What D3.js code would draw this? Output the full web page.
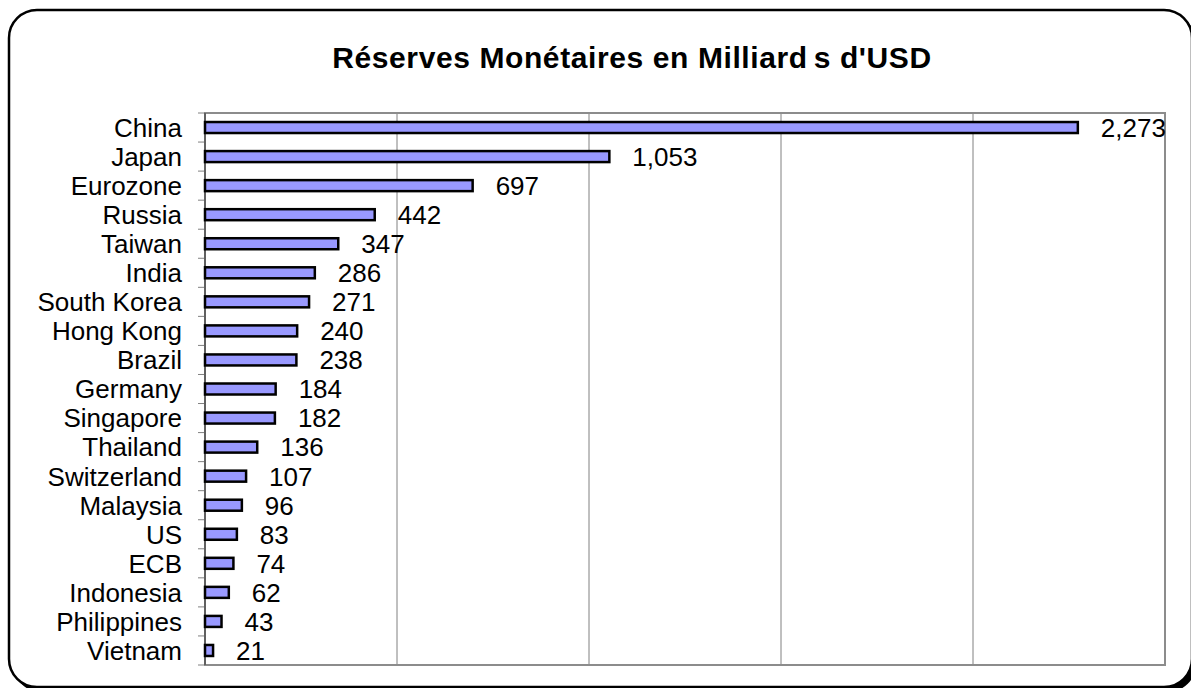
<!DOCTYPE html>
<html><head><meta charset="utf-8">
<script src="https://cdn.jsdelivr.net/npm/d3@7"></script>
<style>body{margin:0;background:#fff}svg{display:block}</style>
</head><body><svg id="c" width="1191" height="688"></svg>
<script>
const categories = ["China","Japan","Eurozone","Russia","Taiwan","India","South Korea","Hong Kong","Brazil","Germany","Singapore","Thailand","Switzerland","Malaysia","US","ECB","Indonesia","Philippines","Vietnam"];
const values = [2273,1053,697,442,347,286,271,240,238,184,182,136,107,96,83,74,62,43,21];
const xTicks = [0,500,1000,1500,2000,2500];
const titleA = "Réserves Monétaires en Milliard", titleB = "s d'USD";

const svg = d3.select("#c");
// outer frame with small shadow
svg.append("rect").attr("x",13).attr("y",14).attr("width",1183).attr("height",678).attr("rx",28).attr("fill","#000");
svg.append("rect").attr("x",9).attr("y",10).attr("width",1183).attr("height",677).attr("rx",28)
  .attr("fill","#fff").attr("stroke","#000").attr("stroke-width",2.5);

const L=205, R=1165, T=113, B=665;
const x = d3.scaleLinear().domain([0,2500]).range([L,R]);
const y = d3.scaleBand().domain(categories).range([T,B]).paddingInner(0).paddingOuter(0);

// gridlines
svg.append("g").selectAll("line").data(xTicks.slice(1,-1)).join("line")
  .attr("x1",d=>x(d)).attr("x2",d=>x(d)).attr("y1",T).attr("y2",B)
  .attr("stroke","#808080").attr("stroke-width",1);
// plot border
svg.append("rect").attr("x",L).attr("y",T).attr("width",R-L).attr("height",B-T)
  .attr("fill","none").attr("stroke","#8c8c8c").attr("stroke-width",2);

// left axis ticks at band boundaries
const bounds = categories.map(c=>y(c)).concat([B]);
svg.append("g").selectAll("line").data(bounds).join("line")
  .attr("x1",L-7).attr("x2",L).attr("y1",d=>d).attr("y2",d=>d)
  .attr("stroke","#808080").attr("stroke-width",1);
svg.append("line").attr("x1",L).attr("x2",L).attr("y1",T).attr("y2",B).attr("stroke","#606060").attr("stroke-width",2);

// bars
const bh = 11;
svg.append("g").selectAll("rect").data(values).join("rect")
  .attr("x",x(0)).attr("y",(d,i)=>y(categories[i])+y.bandwidth()/2-bh/2)
  .attr("width",d=>x(d)-x(0)).attr("height",bh)
  .attr("fill","#9999ff").attr("stroke","#000").attr("stroke-width",2.5);

// category labels
svg.append("g").selectAll("text").data(categories).join("text")
  .attr("x",182).attr("y",d=>y(d)+y.bandwidth()/2).attr("dy","0.36em")
  .attr("text-anchor","end").attr("font-family","Liberation Sans, Arial, sans-serif")
  .attr("font-size",26).attr("fill","#000").text(d=>d);

// value labels
const fmt = d3.format(",");
svg.append("g").selectAll("text").data(values).join("text")
  .attr("x",d=>x(d)+23).attr("y",(d,i)=>y(categories[i])+y.bandwidth()/2).attr("dy","0.36em")
  .attr("font-family","Liberation Sans, Arial, sans-serif")
  .attr("font-size",26).attr("fill","#000").text(d=>fmt(d));

// title
const t = svg.append("text").attr("x",632).attr("y",68).attr("text-anchor","middle")
  .attr("font-family","Liberation Sans, Arial, sans-serif").attr("font-weight","bold")
  .attr("font-size",30).attr("letter-spacing",0.6).attr("fill","#000");
t.append("tspan").text(titleA);
t.append("tspan").attr("dx",6).text(titleB);
</script></body></html>
